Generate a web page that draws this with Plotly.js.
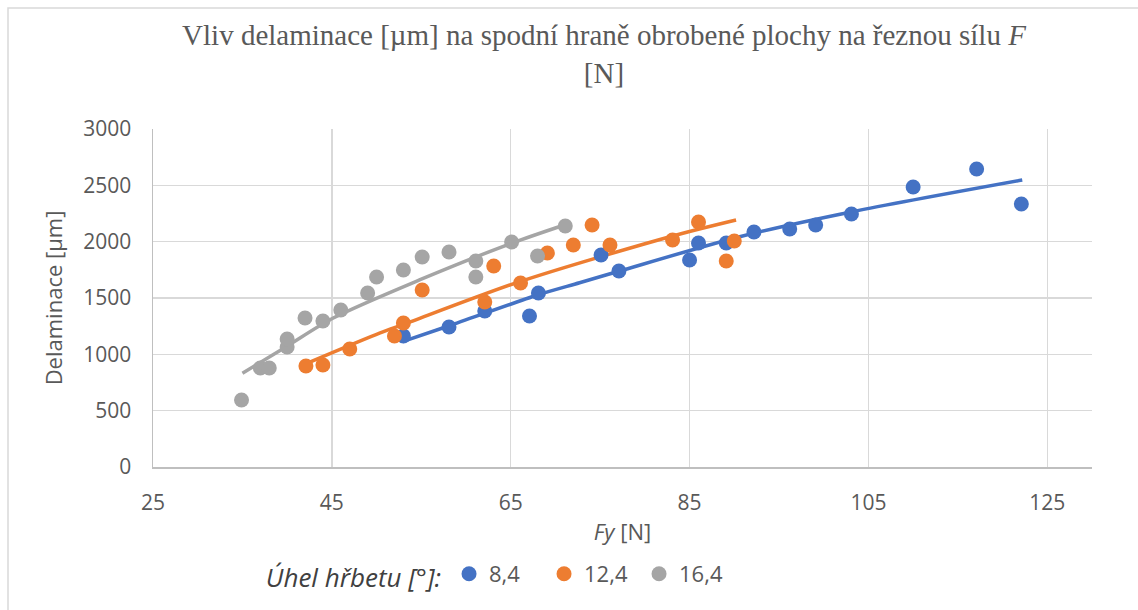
<!DOCTYPE html>
<html>
<head>
<meta charset="utf-8">
<script src="https://cdn.plot.ly/plotly-3.0.1.min.js"></script>
<style>
html,body{margin:0;padding:0;background:#fff;}
#chart{width:1138px;height:610px;}
</style>
</head>
<body>
<div id="chart"></div>
<script>
// Series names (Úhel hřbetu [°])
const seriesNames = ["8,4", "12,4", "16,4"];

// Blue series 8,4
const blueX = [53.0, 58.1, 62.1, 67.1, 68.1, 75.1, 77.1, 85.0, 86.0, 89.1, 92.2, 96.2, 99.1, 103.1, 110.0, 117.1, 122.1];
const blueY = [1163, 1243, 1385, 1340, 1544, 1882, 1740, 1837, 1988, 1988, 2086, 2112, 2148, 2246, 2485, 2645, 2334];

// Orange series 12,4
const orangeX = [42.1, 44.0, 47.0, 52.0, 53.0, 55.1, 62.1, 63.1, 66.1, 69.1, 72.0, 74.1, 76.1, 83.1, 86.0, 89.1, 90.0];
const orangeY = [896, 905, 1047, 1163, 1278, 1571, 1465, 1784, 1633, 1899, 1970, 2148, 1970, 2015, 2175, 1828, 2006];

// Gray series 16,4
const grayX = [34.9, 37.0, 38.0, 40.0, 40.0, 42.0, 44.0, 46.0, 49.0, 50.0, 53.0, 55.1, 58.1, 61.1, 61.1, 65.1, 68.0, 71.1];
const grayY = [595, 879, 879, 1065, 1136, 1322, 1296, 1394, 1544, 1686, 1749, 1864, 1908, 1828, 1686, 1997, 1873, 2139];

// Trend lines
const blueTrendX = [52.9, 57.8, 68.0, 72.7, 77.2, 90.6, 103.2, 122.2];
const blueTrendY = [1112, 1245, 1527, 1635, 1740, 2044, 2266, 2547];
const orangeTrendX = [42.4, 50.4, 53.0, 66.0, 82.8, 90.2];
const orangeTrendY = [926, 1190, 1265, 1645, 2044, 2192];
const grayTrendX = [35.0, 39.9, 45.1, 54.8, 65.1, 71.0];
const grayTrendY = [832, 1068, 1320, 1660, 1986, 2148];

const colors = ["#4472C4", "#ED7D31", "#A5A5A5"];

const xTicks = [25, 45, 65, 85, 105, 125];
const yTicks = [0, 500, 1000, 1500, 2000, 2500, 3000];

const tickFont = {family: "Open Sans, sans-serif", size: 21, color: "#595959"};

function pts(x, y, i) {
  return {x: x, y: y, type: "scatter", mode: "markers", name: seriesNames[i],
    marker: {color: colors[i], size: 15}, cliponaxis: false};
}
function trend(x, y, i) {
  return {x: x, y: y, type: "scatter", mode: "lines", showlegend: false, hoverinfo: "skip",
    line: {color: colors[i], width: 3.5, shape: "spline", smoothing: 0.8}};
}

const data = [
  trend(grayTrendX, grayTrendY, 2),
  trend(orangeTrendX, orangeTrendY, 1),
  trend(blueTrendX, blueTrendY, 0),
  pts(blueX, blueY, 0),
  pts(orangeX, orangeY, 1),
  pts(grayX, grayY, 2)
];

const L = 153, R = 46, T = 129, B = 143;
const pw = 1138 - L - R, ph = 610 - T - B;

const layout = {
  width: 1138, height: 610,
  margin: {l: L, r: R, t: T, b: B, pad: 0},
  paper_bgcolor: "#ffffff", plot_bgcolor: "#ffffff",
  title: {
    text: "Vliv delaminace [µm] na spodní hraně obrobené plochy na řeznou sílu <i>F</i><br>[N]",
    font: {family: "Liberation Serif, Times New Roman, serif", size: 29, color: "#595959"},
    x: 604 / 1138, xanchor: "center", xref: "container",
    y: 1 - 45 / 610, yanchor: "top", yref: "container"
  },
  xaxis: {
    range: [25, 130], tickvals: xTicks, ticktext: xTicks.map(String),
    showgrid: true, gridcolor: "#D9D9D9", gridwidth: 1.5,
    zeroline: false, showline: true, linecolor: "#BFBFBF", linewidth: 1.5,
    ticks: "", tickfont: tickFont, ticklabelstandoff: 16,
    title: {text: "<i>Fy</i> [N]", font: {family: "Open Sans, sans-serif", size: 22, color: "#595959"}, standoff: 10}
  },
  yaxis: {
    range: [0, 3000], tickvals: yTicks, ticktext: yTicks.map(String),
    showgrid: true, gridcolor: "#D9D9D9", gridwidth: 1.5,
    zeroline: false, showline: true, linecolor: "#BFBFBF", linewidth: 1.5,
    ticks: "", tickfont: tickFont, ticklabelstandoff: 16,
    title: {text: "Delaminace [µm]", font: {family: "Open Sans, sans-serif", size: 22, color: "#595959"}, standoff: 14}
  },
  showlegend: true,
  legend: {
    orientation: "h", x: 0.118, xanchor: "left", y: (467 - 575) / ph, yanchor: "middle",
    font: {family: "Open Sans, sans-serif", size: 22, color: "#595959"},
    title: {text: "<i>Úhel hřbetu [°]:</i>", side: "left", font: {family: "Open Sans, sans-serif", size: 26, color: "#404040"}},
    itemsizing: "trace", bgcolor: "rgba(0,0,0,0)", entrywidth: 50
  },
  shapes: [{
    type: "rect", xref: "paper", yref: "paper",
    x0: (8 - L) / pw, x1: (1145 - L) / pw,
    y0: (467 - 620) / ph, y1: (467 - 8) / ph,
    line: {color: "#D9D9D9", width: 1.5}, fillcolor: "rgba(0,0,0,0)", layer: "below"
  }]
};

Plotly.newPlot("chart", data, layout, {displayModeBar: false, staticPlot: true});
</script>
</body>
</html>
